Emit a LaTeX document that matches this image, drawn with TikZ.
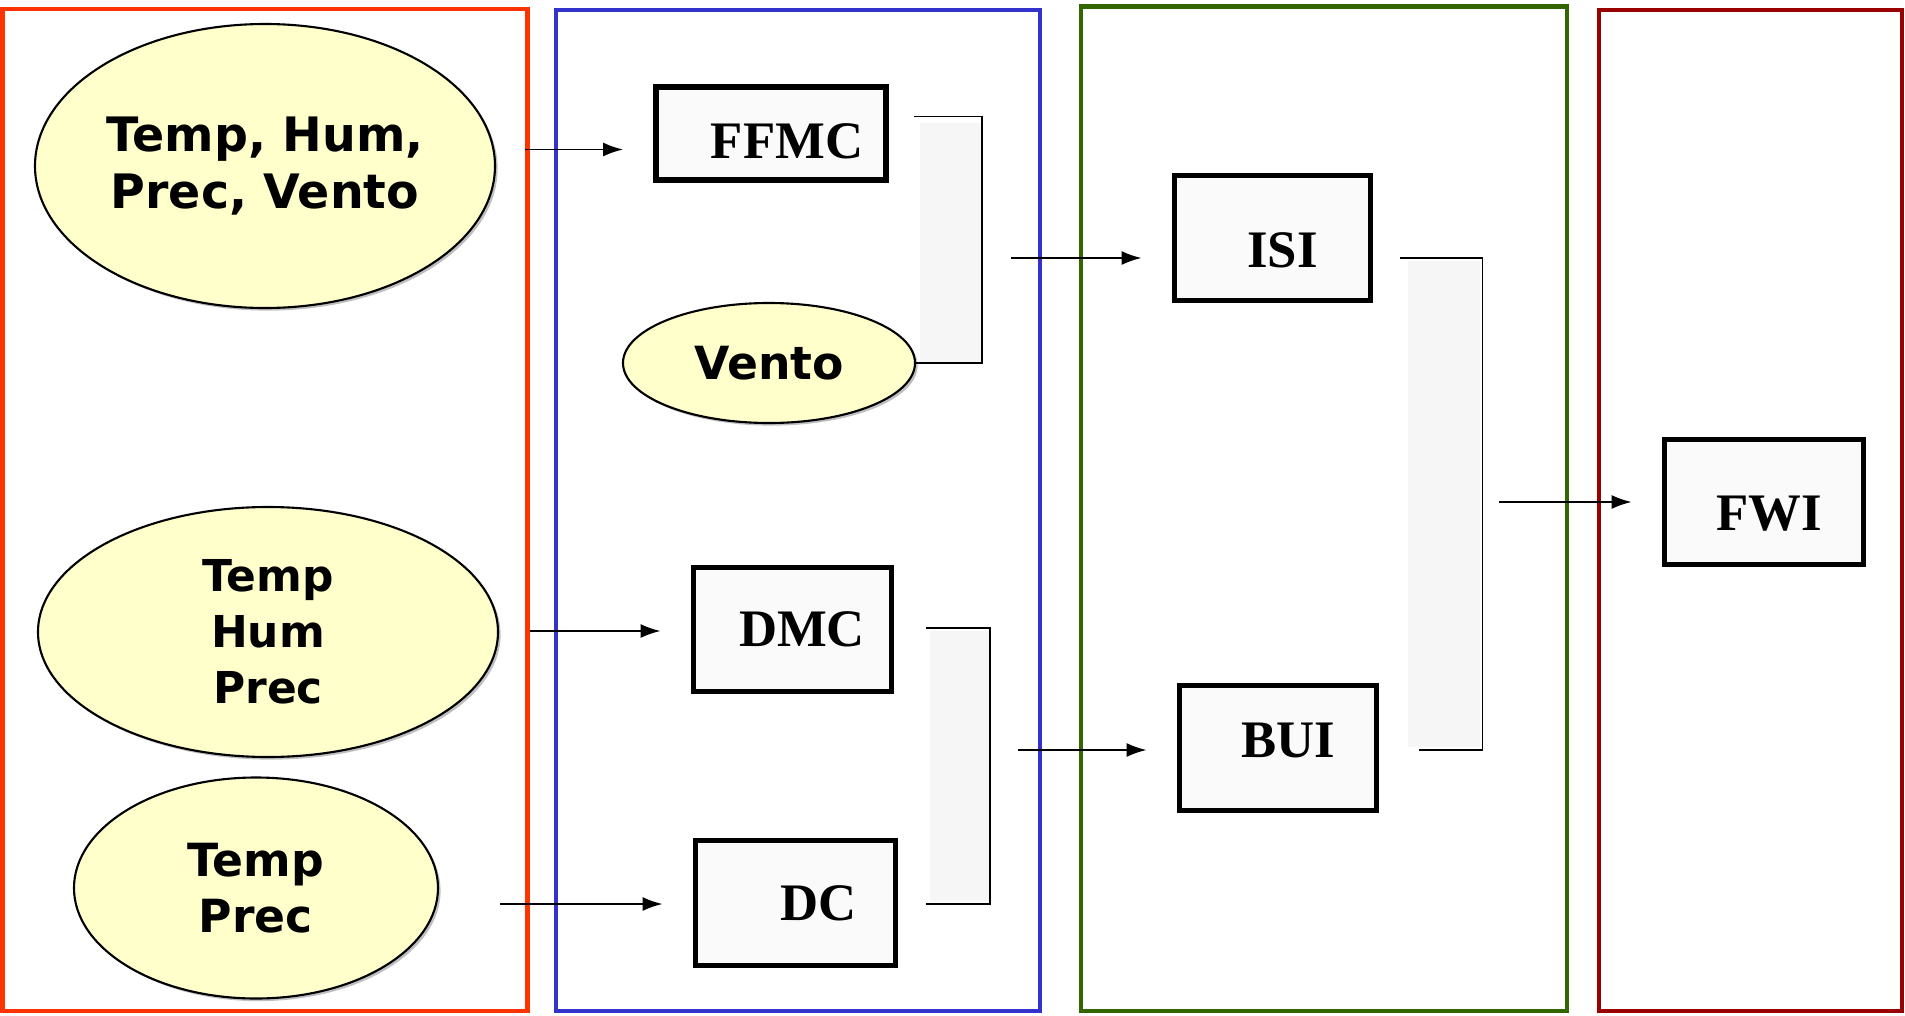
\documentclass[tikz,border=0pt]{standalone}
\usepackage{fontspec}
\setmainfont{Liberation Serif}
\newfontfamily\ovalfont{DejaVu Sans}
\usetikzlibrary{arrows.meta,shapes.geometric,shadows}

\definecolor{inputfill}{HTML}{FFFFCC}
\definecolor{inputframe}{HTML}{FF3300}
\definecolor{codeframe}{HTML}{3333CC}
\definecolor{indexframe}{HTML}{336600}
\definecolor{fwiframe}{HTML}{990000}

\newcommand{\boxlabel}[3]{\raisebox{#2}[\height][\depth]{\hspace*{#1}#3}}

\begin{document}
\begin{tikzpicture}[
    oval/.style={ellipse,draw,line width=1.2pt,fill=inputfill,inner sep=0pt,align=center,
        font=\ovalfont\bfseries\fontsize{#1}{32}\selectfont,
        drop shadow={shadow xshift=1.5pt,shadow yshift=-1.5pt,opacity=0.5}},
    oval/.default=26,
    index/.style={rectangle,draw,line width=3.3pt,fill=gray!4,inner sep=0pt,
        font=\bfseries\fontsize{30}{32}\selectfont},
    arr/.style={line width=1.1pt,-{Latex[length=0.4cm,width=0.28cm]},shorten >=0.6cm},
    link/.style={line width=1.1pt},
    band/.style={fill=gray!7,draw=none},
    frame/.style={line width=2.6pt}
  ]
    \useasboundingbox (0,0) rectangle (38.1,-20.32);

    \draw[frame,inputframe] (0.05,-0.18) rectangle (10.55,-20.22);
    \draw[frame,codeframe] (11.12,-0.2) rectangle (20.8,-20.22);
    \draw[frame,indexframe] (21.62,-0.13) rectangle (31.34,-20.22);
    \draw[frame,fwiframe] (31.98,-0.2) rectangle (38.04,-20.22);

    \fill[band] (18.4,-2.45) rectangle (19.62,-7.25);
    \fill[band] (18.6,-12.62) rectangle (19.78,-18.02);
    \fill[band] (28.15,-5.22) rectangle (29.6,-14.94);

    \node[oval=27,minimum width=9.2cm,minimum height=5.68cm] (wxall) at (5.3,-3.32) {Temp, Hum,\\Prec, Vento};
    \node[oval=25,minimum width=9.2cm,minimum height=5.0cm] (wxthree) at (5.36,-12.64) {Temp\\Hum\\Prec};
    \node[oval,minimum width=7.28cm,minimum height=4.42cm] (wxtwo) at (5.12,-17.76) {Temp\\Prec};
    \node[oval,minimum width=5.84cm,minimum height=2.4cm] (wind) at (15.38,-7.26) {Vento};

    \node[index,minimum width=4.6cm,minimum height=1.86cm] (ffmc) at (15.42,-2.67) {\boxlabel{0.64cm}{-0.15cm}{FFMC}};
    \node[index,minimum width=3.96cm,minimum height=2.48cm] (dmc) at (15.85,-12.59) {\boxlabel{0.38cm}{0cm}{DMC}};
    \node[index,minimum width=4.0cm,minimum height=2.5cm] (dc) at (15.91,-18.06) {\boxlabel{0.92cm}{0cm}{DC}};
    \node[index,minimum width=3.92cm,minimum height=2.5cm] (isi) at (25.45,-4.76) {\boxlabel{0.4cm}{-0.24cm}{ISI}};
    \node[index,minimum width=3.94cm,minimum height=2.5cm] (bui) at (25.56,-14.96) {\boxlabel{0.4cm}{0.16cm}{BUI}};
    \node[index,minimum width=3.98cm,minimum height=2.5cm] (fwi) at (35.28,-10.04) {\boxlabel{0.2cm}{-0.24cm}{FWI}};

    \coordinate (inffmc) at (10.5,-2.99);
    \coordinate (indmc) at (10.6,-12.62);
    \coordinate (indc) at (10.0,-18.08);
    \coordinate (inisi) at (20.22,-5.16);
    \coordinate (inbui) at (20.36,-15.0);
    \coordinate (infwi) at (29.98,-10.04);

    \draw[arr] (inffmc) -- (inffmc -| ffmc.west);
    \draw[arr] (indmc) -- (indmc -| dmc.west);
    \draw[arr] (indc) -- (indc -| dc.west);
    \draw[arr] (inisi) -- (inisi -| isi.west);
    \draw[arr] (inbui) -- (inbui -| bui.west);
    \draw[arr] (infwi) -- (infwi -| fwi.west);

    \coordinate (ffmcout) at (18.28,-2.33);
    \coordinate (dmcout) at (18.52,-12.56);
    \coordinate (dcout) at (18.52,-18.08);
    \coordinate (isiout) at (28.0,-5.16);
    \coordinate (buiout) at (28.38,-15.0);

    \draw[link] (ffmcout) -- ++(1.36,0) |- (wind.east);
    \draw[link] (dmcout) -- ++(1.28,0) |- (dcout);
    \draw[link] (isiout) -- ++(1.65,0) |- (buiout);
  \end{tikzpicture}
\end{document}
